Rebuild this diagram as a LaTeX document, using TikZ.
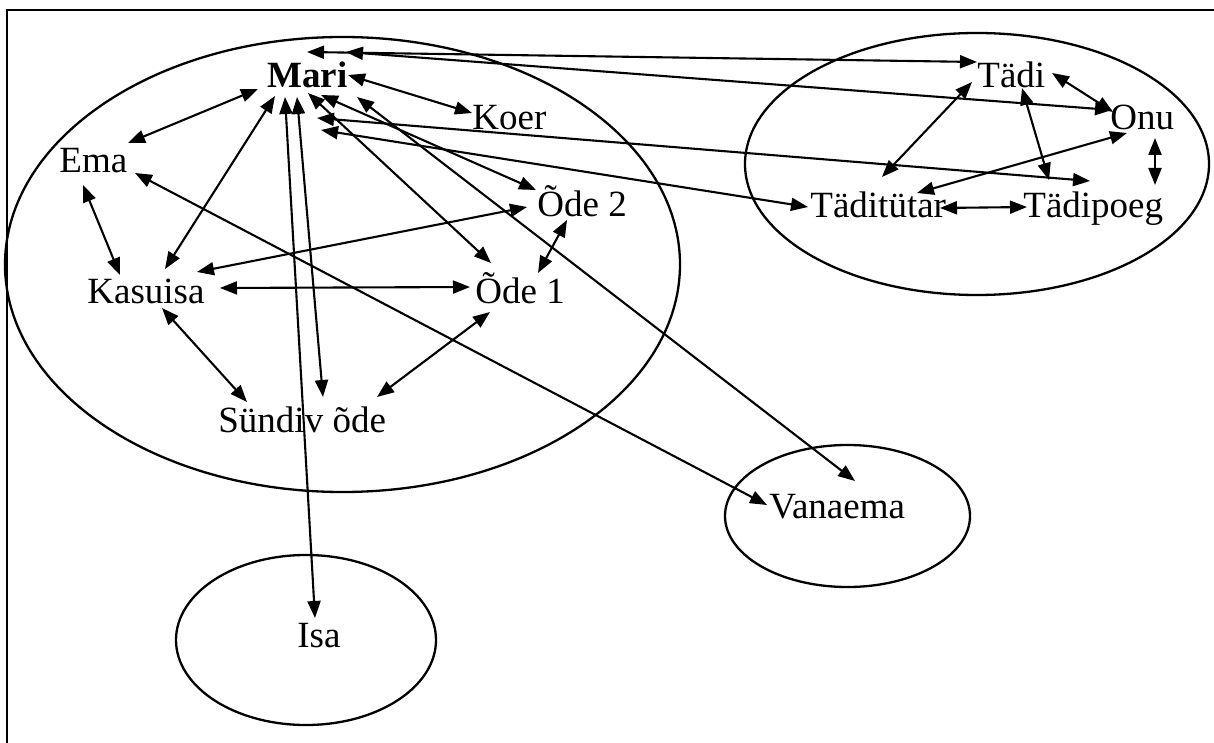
\documentclass[tikz,border=0pt]{standalone}
\usepackage{fontspec}
\setmainfont{Liberation Serif}
\usetikzlibrary{arrows.meta,calc,shapes.geometric}
\begin{document}
\begin{tikzpicture}[x=0.5pt,y=-0.5pt,
  lbl/.style={inner sep=0pt, anchor=base west, font=\fontsize{18.5}{22}\selectfont},
  grp/.style={draw, ellipse, line width=1.15pt, inner sep=0pt},
  link/.style={line width=1.05pt, {Triangle[length=8.5pt,width=6.5pt]}-{Triangle[length=8.5pt,width=6.5pt]}},
  frameline/.style={line width=1pt}]
\useasboundingbox (0,0) rectangle (1214,743);
% frame
\coordinate (fbl) at (7,743);
\coordinate (ftl) at (7,10);
\coordinate (ftr) at (1214,10);
\draw[frameline] (fbl) -- (ftl) -- (ftr);
% group ellipses
\node[grp, minimum width=337.5pt, minimum height=227.5pt] (family) at (342.5,264.5) {};
\node[grp, minimum width=232pt, minimum height=131pt] (relatives) at (977,164) {};
\node[grp, minimum width=122.5pt, minimum height=71pt] (granny) at (847.5,516) {};
\node[grp, minimum width=130pt, minimum height=85pt] (father) at (306,640) {};
% labels
\node[lbl, font=\fontsize{18.5}{22}\selectfont\bfseries] (mari) at (267,88) {Mari};
\node[lbl] (koer) at (472,130) {Koer};
\node[lbl] (ema) at (59,173) {Ema};
\node[lbl] (kasuisa) at (87,303) {Kasuisa};
\node[lbl] (ode2) at (537,217) {Õde 2};
\node[lbl] (ode1) at (475,303) {Õde 1};
\node[lbl] (sundiv) at (218,432) {Sündiv õde};
\node[lbl] (vanaema) at (769,518) {Vanaema};
\node[lbl] (isa) at (297,647) {Isa};
\node[lbl] (tadi) at (977,88) {Tädi};
\node[lbl] (onu) at (1110,130) {Onu};
\node[lbl] (taditutar) at (810,218) {Täditütar};
\node[lbl] (tadipoeg) at (1023,218) {Tädipoeg};
% connectors from Mari
\draw[link] ($(mari.base west)+(40,-36)$) -- ($(tadi.base west)+(0,-26)$);
\draw[link] ($(mari.base west)+(79,-36)$) -- ($(onu.base west)+(2,-20)$);
\draw[link] ($(mari.base west)+(81,-13)$) -- ($(koer.base west)+(0,-17)$);
\draw[link] ($(mari.base west)+(-9,1)$) -- ($(ema.base west)+(69,-30)$);
\draw[link] ($(mari.base west)+(8,8)$) -- ($(kasuisa.base west)+(78,-34)$);
\draw[link] ($(mari.base west)+(30,9)$) -- ($(sundiv.base west)+(105,-35)$);
\draw[link] ($(mari.base west)+(18,9)$) -- ($(isa.base west)+(18,-29)$);
\draw[link] ($(mari.base west)+(41,5)$) -- ($(ode1.base west)+(16,-40)$);
\draw[link] ($(mari.base west)+(54,7)$) -- ($(ode2.base west)+(-1,-27)$);
\draw[link] ($(mari.base west)+(90,9)$) -- ($(vanaema.base west)+(86,-37)$);
\draw[link] ($(mari.base west)+(50,30)$) -- ($(tadipoeg.base west)+(67,-37)$);
\draw[link] ($(mari.base west)+(54,42)$) -- ($(taditutar.base west)+(-2,-11)$);
% left family
\draw[link] ($(ema.base west)+(24,12)$) -- ($(kasuisa.base west)+(33,-28)$);
\draw[link] ($(ema.base west)+(76,0)$) -- ($(vanaema.base west)+(-2,-13)$);
\draw[link] ($(kasuisa.base west)+(110,-31)$) -- ($(ode2.base west)+(-10,-10)$);
\draw[link] ($(kasuisa.base west)+(133,-15)$) -- ($(ode1.base west)+(-5,-16)$);
\draw[link] ($(ode1.base west)+(63,-30)$) -- ($(ode2.base west)+(30,3)$);
\draw[link] ($(kasuisa.base west)+(75,5)$) -- ($(sundiv.base west)+(29,-30)$);
\draw[link] ($(ode1.base west)+(15,9)$) -- ($(sundiv.base west)+(159,-35)$);
% relatives
\draw[link] ($(tadi.base west)+(75,-15)$) -- ($(onu.base west)+(3,-18)$);
\draw[link] ($(tadi.base west)+(-5,-6)$) -- ($(taditutar.base west)+(72,-41)$);
\draw[link] ($(tadi.base west)+(45,0)$) -- ($(tadipoeg.base west)+(26,-38)$);
\draw[link] ($(onu.base west)+(17,3)$) -- ($(taditutar.base west)+(107,-25)$);
\draw[link] ($(taditutar.base west)+(130,-10)$) -- ($(tadipoeg.base west)+(4,-11)$);
\draw[link] ($(onu.base west)+(45,8)$) -- ($(tadipoeg.base west)+(132,-33)$);
\end{tikzpicture}
\end{document}
